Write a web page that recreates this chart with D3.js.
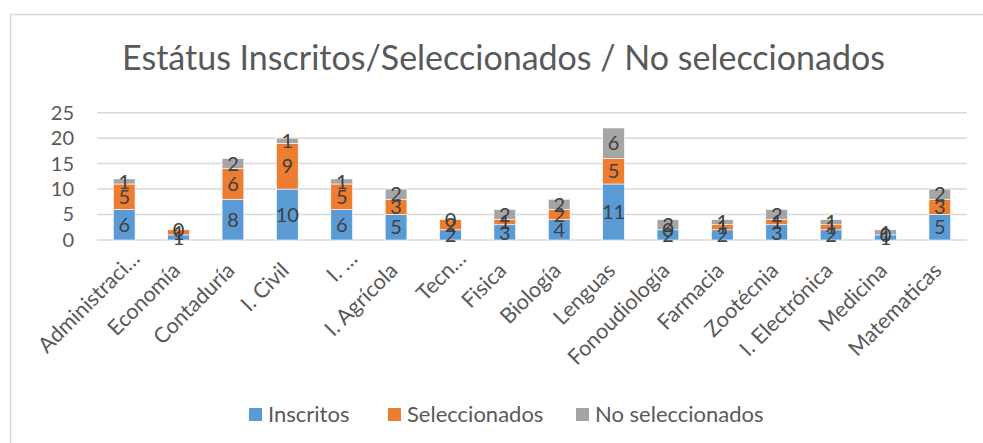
<!DOCTYPE html>
<html>
<head>
<meta charset="utf-8">
<script src="https://cdn.jsdelivr.net/npm/d3@7"></script>
<style>
  body { margin: 0; background: #fff; }
  text { font-family: Lato, "Open Sans", sans-serif; }
</style>
</head>
<body>
<div id="chart"></div>
<script>
// datos del gráfico
var carreras = ["Administraci…", "Economía", "Contaduría", "I. Civil", "I. …", "I. Agrícola",
  "Tecn…", "Fisica", "Biología", "Lenguas", "Fonoudiología", "Farmacia", "Zootécnia",
  "I. Electrónica", "Medicina", "Matematicas"];
var inscritos      = [6, 1, 8, 10, 6, 5, 2, 3, 4, 11, 2, 2, 3, 2, 1, 5];
var seleccionados  = [5, 1, 6, 9, 5, 3, 2, 1, 2, 5, 0, 1, 1, 1, 0, 3];
var noSeleccionados = [1, 0, 2, 1, 1, 2, 0, 2, 2, 6, 2, 1, 2, 1, 1, 2];
var series = ["Inscritos", "Seleccionados", "No seleccionados"];
var yTicks = [0, 5, 10, 15, 20, 25];
var titulo = "Estátus Inscritos/Seleccionados / No seleccionados";

var colores = ["#5B9BD5", "#ED7D31", "#A5A5A5"];

var W = 983, H = 443;
var svg = d3.select("#chart").append("svg")
  .attr("width", W).attr("height", H);

// marco del área del gráfico
svg.append("rect")
  .attr("x", 10.5).attr("y", 14.5)
  .attr("width", 1000).attr("height", 500)
  .attr("fill", "#fff")
  .attr("stroke", "#D9D9D9").attr("stroke-width", 1.5);

// título
svg.append("text")
  .attr("x", 503.5).attr("y", 70)
  .attr("text-anchor", "middle")
  .style("font-size", "34px")
  .style("fill", "#595959")
  .text(titulo);

// escalas
var x = d3.scaleBand()
  .domain(carreras)
  .range([97, 967])
  .paddingInner(0.6)
  .paddingOuter(0.3);

var y = d3.scaleLinear()
  .domain([0, 25])
  .range([240, 112.7]);

// líneas de cuadrícula
svg.append("g")
  .selectAll("line")
  .data(yTicks)
  .enter().append("line")
    .attr("x1", 97).attr("x2", 967)
    .attr("y1", function(d) { return y(d); })
    .attr("y2", function(d) { return y(d); })
    .attr("stroke", "#D9D9D9").attr("stroke-width", 1.5);

// eje Y
var ejeY = svg.append("g")
  .attr("transform", "translate(80,0)")
  .call(d3.axisLeft(y).tickValues(yTicks).tickSize(0).tickPadding(0));
ejeY.select(".domain").remove();
ejeY.selectAll("text")
  .style("font-size", "20px")
  .style("font-family", "Lato, sans-serif")
  .attr("fill", "#595959")
  .attr("x", -6);

// datos apilados
var tabla = carreras.map(function(c, i) {
  return { carrera: c, s0: inscritos[i], s1: seleccionados[i], s2: noSeleccionados[i] };
});
var stack = d3.stack().keys(["s0", "s1", "s2"]);
var capas = stack(tabla);

var grupos = svg.append("g")
  .selectAll("g")
  .data(capas)
  .enter().append("g")
    .attr("fill", function(d, i) { return colores[i]; });

grupos.selectAll("rect")
  .data(function(d) { return d; })
  .enter().append("rect")
    .attr("x", function(d) { return x(d.data.carrera); })
    .attr("width", x.bandwidth())
    .attr("y", function(d) { return y(d[1]); })
    .attr("height", function(d) { return y(d[0]) - y(d[1]); })
    .attr("stroke", "#fff").attr("stroke-width", 0.6);

// etiquetas de datos
var etiquetas = svg.append("g");
capas.forEach(function(capa) {
  etiquetas.selectAll(null)
    .data(capa)
    .enter().append("text")
      .attr("x", function(d) { return x(d.data.carrera) + x.bandwidth() / 2; })
      .attr("y", function(d) { return (y(d[0]) + y(d[1])) / 2; })
      .attr("dy", "0.36em")
      .attr("text-anchor", "middle")
      .style("font-size", "20px")
      .style("fill", "#404040")
      .text(function(d) { return d[1] - d[0]; });
});

// eje X con etiquetas giradas
var ejeX = svg.append("g")
  .attr("transform", "translate(0,240)")
  .call(d3.axisBottom(x).tickSize(0).tickPadding(0));
ejeX.select(".domain").remove();
ejeX.selectAll("text")
  .style("font-size", "21.5px")
  .style("font-family", "Lato, sans-serif")
  .attr("fill", "#595959")
  .attr("text-anchor", "end")
  .attr("y", 0)
  .attr("dy", 0)
  .attr("transform", function(d) {
    // las etiquetas recortadas quedan algo más arriba, como en el original
    return d.slice(-1) === "…" ? "translate(17,20) rotate(-45)" : "translate(3,32) rotate(-45)";
  });

// leyenda
var leyendaX = [249, 388, 576];
var leyenda = svg.append("g");
series.forEach(function(s, i) {
  leyenda.append("rect")
    .attr("x", leyendaX[i]).attr("y", 408)
    .attr("width", 13).attr("height", 13)
    .attr("fill", colores[i]);
  leyenda.append("text")
    .attr("x", leyendaX[i] + 19).attr("y", 421.5)
    .style("font-size", "22px")
    .style("fill", "#595959")
    .text(s);
});
</script>
</body>
</html>
